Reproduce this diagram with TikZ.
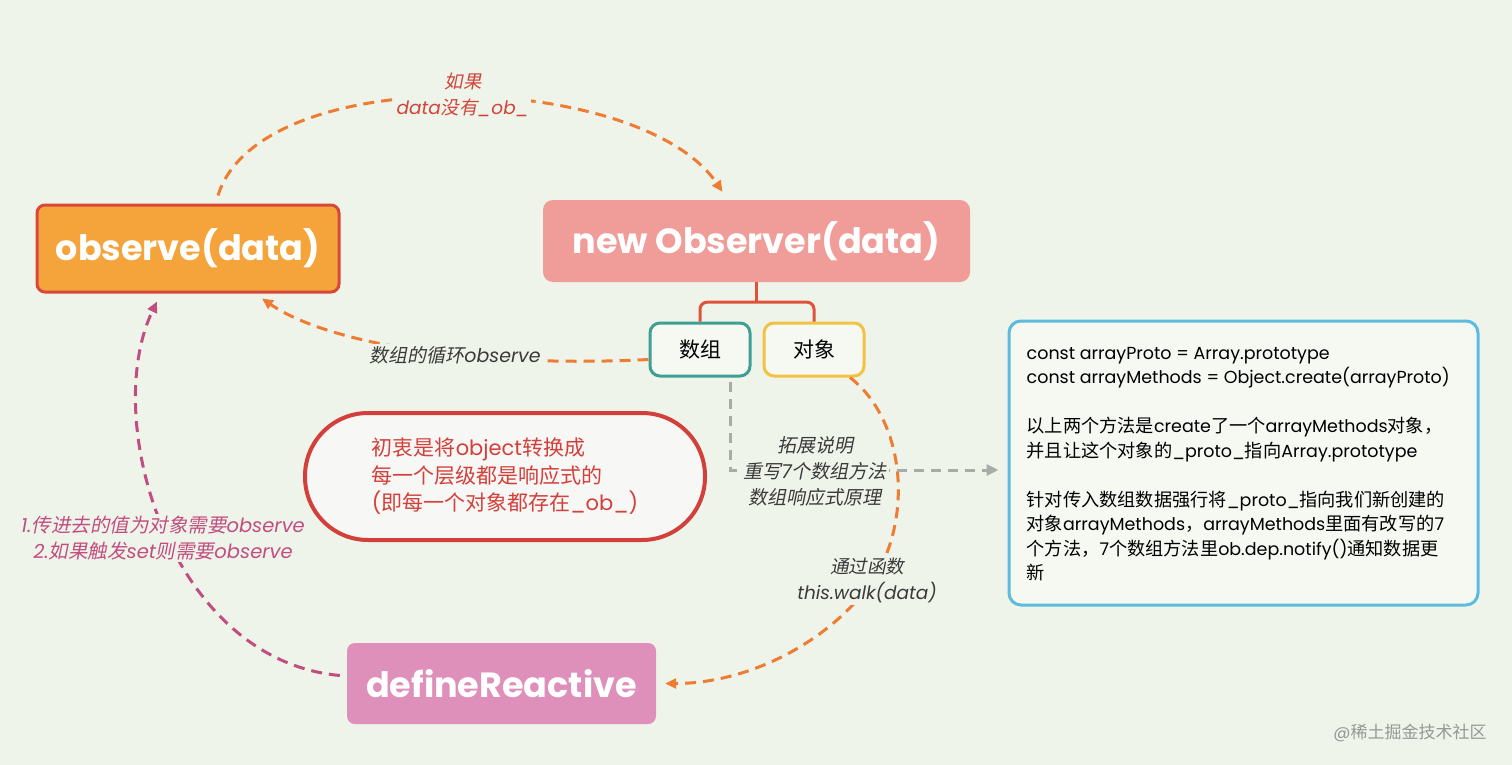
\documentclass[tikz,border=0pt]{standalone}
\usepackage{fontspec}
\setmainfont{Poppins}
\newfontfamily\codelatin{Poppins}[Scale=0.96]
\newfontfamily\cjkup{Noto Sans CJK SC}
\newfontfamily\cjkit{Noto Sans CJK SC}[FakeSlant=0.2]
\usetikzlibrary{arrows.meta}
\newXeTeXintercharclass\CJKclass
\newcount\cjkcnt
\cjkcnt="2E80
\loop\ifnum\cjkcnt<"A000 \XeTeXcharclass\cjkcnt=\CJKclass \advance\cjkcnt by 1 \repeat
\cjkcnt="FF00
\loop\ifnum\cjkcnt<"FFF0 \XeTeXcharclass\cjkcnt=\CJKclass \advance\cjkcnt by 1 \repeat
\def\CJKFont{\cjkup}
\def\LatinFont{\rmfamily}
\XeTeXinterchartoks 0 \CJKclass = {\CJKFont}
\XeTeXinterchartoks 4095 \CJKclass = {\CJKFont}
\XeTeXinterchartoks \CJKclass 0 = {\LatinFont}
\XeTeXinterchartoks \CJKclass 4095 = {\LatinFont}
\newcommand\itlbl[1]{\fontsize{#1}{26}\selectfont\def\CJKFont{\cjkit\upshape}\def\LatinFont{\rmfamily\itshape}\itshape}
\newcommand\codefont{\fontsize{18.2}{24.5}\selectfont\def\LatinFont{\codelatin}\codelatin}
\definecolor{bg}{RGB}{238,244,233}
\definecolor{leafbg}{RGB}{245,249,242}
\definecolor{dashor}{RGB}{238,124,50}
\definecolor{obsfill}{RGB}{244,164,58}
\definecolor{obsdraw}{RGB}{216,72,58}
\definecolor{newfill}{RGB}{240,156,152}
\definecolor{deffill}{RGB}{222,143,186}
\definecolor{pilldraw}{RGB}{211,63,58}
\definecolor{pillfill}{RGB}{247,247,245}
\definecolor{teal}{RGB}{62,160,149}
\definecolor{yel}{RGB}{242,194,67}
\definecolor{bluebd}{RGB}{93,187,224}
\definecolor{magd}{RGB}{194,77,128}
\definecolor{redlbl}{RGB}{210,67,59}
\definecolor{darklbl}{RGB}{58,58,58}
\definecolor{graydash}{RGB}{168,171,166}
\definecolor{wmgray}{RGB}{150,152,150}
\definecolor{bracketc}{RGB}{224,83,58}
\tikzset{
  title/.style={text=white, font=\fontsize{35}{40}\selectfont\bfseries, inner sep=0pt},
  leaf/.style={draw, line width=3pt, fill=leafbg, rounded corners=10pt, minimum width=100pt, minimum height=53pt, inner sep=0pt, font=\fontsize{21}{24}\selectfont, text=black},
  odash/.style={draw=dashor, line width=3pt, dash pattern=on 11pt off 7pt, -{Triangle[length=11pt,width=10pt]}},
  mdash/.style={draw=magd, line width=3pt, dash pattern=on 11pt off 7pt, -{Triangle[length=11pt,width=10pt]}},
  gdash/.style={draw=graydash, line width=3pt, dash pattern=on 10pt off 7pt, -{Triangle[length=12pt,width=11pt]}},
  lbl/.style={fill=bg, inner sep=2pt, align=center, font=\itlbl{18.5}},
  bracket/.style={draw=bracketc, line width=3pt},
}
\begin{document}
\begin{tikzpicture}[x=1pt,y=-1pt]
\XeTeXinterchartokenstate=1
\fill[bg] (0,0) rectangle (1512,765);
\useasboundingbox (0,0) rectangle (1512,765);

% main nodes
\node[title, draw=obsdraw, line width=3pt, fill=obsfill, rounded corners=8pt, minimum width=302pt, minimum height=87pt] (obsv) at (188,248.5) {observe(data)};
\node[title, fill=newfill, rounded corners=10pt, minimum width=427pt, minimum height=82pt] (Obs) at (756.5,241) {new Observer(data)};
\node[title, fill=deffill, rounded corners=8pt, minimum width=309pt, minimum height=81pt] (def) at (501.5,683.5) {defineReactive};
\node[leaf, draw=teal] (arr) at (700,349.5) {数组};
\node[leaf, draw=yel] (obj) at (814,349.5) {对象};

\node[draw=pilldraw, line width=4pt, fill=pillfill, rounded corners=63pt, minimum width=400pt, minimum height=127pt, inner sep=0pt, align=left, text=pilldraw, font=\fontsize{21}{27.5}\selectfont] (pill) at (505,476.5) {初衷是将object转换成\\每一个层级都是响应式的\\(即每一个对象都存在\_ob\_)};

\node[draw=bluebd, line width=3pt, fill=leafbg, rounded corners=12pt, minimum width=469pt, minimum height=284pt] (blue) at (1243.5,463) {};
\node[anchor=west, inner sep=0pt, align=left, text=black, font=\codefont] (code) at ([xshift=19pt,yshift=-1pt]blue.west) {const arrayProto = Array.prototype\\
const arrayMethods = Object.create(arrayProto)\\[24.5pt]
以上两个方法是create了一个arrayMethods对象，\\
并且让这个对象的\_proto\_指向Array.prototype\\[24.5pt]
针对传入数组数据强行将\_proto\_指向我们新创建的\\
对象arrayMethods，arrayMethods里面有改写的7\\
个方法，7个数组方法里ob.dep.notify()通知数据更\\
新};

% bracket
\draw[bracket] (Obs.south) -- ++(0,20) coordinate (bj);
\draw[bracket, rounded corners=7pt] (arr.north) |- (bj) -| (obj.north);

% connectors
\draw[odash] ([xshift=30pt,yshift=8pt]obsv.north) .. controls (260,60) and (640,70) .. ([xshift=-34pt,yshift=8pt]Obs.north);
\node[lbl, text=redlbl] (l1) at (463,95) {如果\\data没有\_ob\_};

\draw[odash] ([yshift=-10pt]arr.west) .. controls (480,368) and (330,345) .. ([xshift=74pt,yshift=-5pt]obsv.south);
\node[lbl, text=darklbl, font=\itlbl{19}] (l2) at (455,355) {数组的循环observe};

\draw[odash] ([xshift=36pt]obj.south) .. controls (905,420) and (915,520) .. (870,585) .. controls (820,650) and (740,683.5) .. ([xshift=9pt]def.east);
\node[lbl, text=darklbl] (l3) at (867,580) {通过函数\\this.walk(data)};

\draw[mdash] ([xshift=-7pt,yshift=8pt]def.west) .. controls (170,660) and (100,420) .. ([xshift=-31pt,yshift=-8pt]obsv.south);
\node[lbl, text=magd, font=\itlbl{19.5}] (l4) at (163,538) {1.传进去的值为对象需要observe\\2.如果触发set则需要observe};

\draw[gdash] ([xshift=30pt,yshift=-4pt]arr.south) |- ([xshift=-9pt,yshift=-7pt]blue.west);
\node[lbl, text=darklbl, font=\itlbl{19}] (l5) at (815,471) {拓展说明\\重写7个数组方法\\数组响应式原理};

\node[text=wmgray, font=\fontsize{17}{20}\selectfont, inner sep=0pt] (wm) at (1410,733) {@稀土掘金技术社区};
\end{tikzpicture}
\end{document}
